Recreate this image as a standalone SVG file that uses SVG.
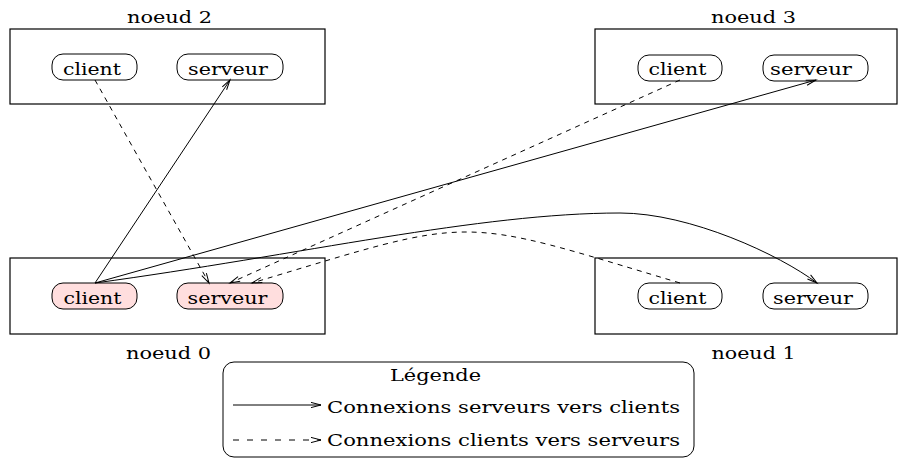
<svg xmlns="http://www.w3.org/2000/svg" width="899" height="459" viewBox="0 0 899 459">
<style>
.box{fill:none;stroke:#000;stroke-width:1.2}
.pill{fill:#fff;stroke:#000;stroke-width:1}
.pink{fill:#ffdede}
text{font-family:'DejaVu Serif','Liberation Serif',Tinos,'Times New Roman',serif;fill:#000}
.lbl{font-size:16px;text-anchor:middle}
.pt{font-size:17px;text-anchor:middle}
.lg{font-size:17px}
.con{fill:none;stroke:#000;stroke-width:1}
.dash{stroke-dasharray:5,5}
.ldash{stroke-dasharray:6,8}
</style>
<defs>
<marker id="arr" markerUnits="userSpaceOnUse" markerWidth="14" markerHeight="10" viewBox="-11 -5 14 10" refX="0" refY="0" orient="auto">
<path d="M-10,-2.6 L0,0 L-10,2.6" fill="none" stroke="#000" stroke-width="1"/>
</marker>
</defs>
<rect x="0" y="0" width="899" height="459" fill="#fff"/>
<g id="noeud2">
<rect class="box" x="10" y="29" width="315" height="75"/>
<text class="lbl" x="169.5" y="23" textLength="85" lengthAdjust="spacingAndGlyphs">noeud 2</text>
<g id="n2-client"><rect class="pill" x="52" y="54" width="85" height="26" rx="11"/><text class="pt" x="92" y="75" textLength="58" lengthAdjust="spacingAndGlyphs">client</text></g>
<g id="n2-serveur"><rect class="pill" x="177" y="54" width="106" height="26" rx="11"/><text class="pt" x="228" y="75" textLength="80" lengthAdjust="spacingAndGlyphs">serveur</text></g>
</g>

<g id="noeud3">
<rect class="box" x="595" y="29" width="302" height="75"/>
<text class="lbl" x="753.5" y="23" textLength="85" lengthAdjust="spacingAndGlyphs">noeud 3</text>
<g id="n3-client"><rect class="pill" x="638" y="55" width="84" height="26" rx="11"/><text class="pt" x="677.5" y="75" textLength="58" lengthAdjust="spacingAndGlyphs">client</text></g>
<g id="n3-serveur"><rect class="pill" x="763" y="55" width="105" height="26" rx="11"/><text class="pt" x="811" y="75" textLength="82" lengthAdjust="spacingAndGlyphs">serveur</text></g>
</g>

<g id="noeud0">
<rect class="box" x="10" y="258" width="315" height="76"/>
<text class="lbl" x="168.5" y="359" textLength="85" lengthAdjust="spacingAndGlyphs">noeud 0</text>
<g id="n0-client"><rect class="pill pink" x="52" y="283" width="85" height="26" rx="11"/><text class="pt" x="92.5" y="303.5" textLength="58" lengthAdjust="spacingAndGlyphs">client</text></g>
<g id="n0-serveur"><rect class="pill pink" x="177" y="283" width="106" height="26" rx="11"/><text class="pt" x="227.5" y="303.5" textLength="80" lengthAdjust="spacingAndGlyphs">serveur</text></g>
</g>

<g id="noeud1">
<rect class="box" x="595" y="258" width="302" height="76"/>
<text class="lbl" x="753.5" y="359" textLength="84" lengthAdjust="spacingAndGlyphs">noeud 1</text>
<g id="n1-client"><rect class="pill" x="638" y="283" width="84" height="26" rx="11"/><text class="pt" x="677.5" y="303.5" textLength="58" lengthAdjust="spacingAndGlyphs">client</text></g>
<g id="n1-serveur"><rect class="pill" x="763" y="283" width="105" height="26" rx="11"/><text class="pt" x="813" y="303.5" textLength="80" lengthAdjust="spacingAndGlyphs">serveur</text></g>
</g>

<g id="connectors">
<line class="con" x1="95" y1="283" x2="230" y2="80" marker-end="url(#arr)"/>
<line class="con dash" x1="95" y1="80" x2="209" y2="283" marker-end="url(#arr)"/>
<line class="con" x1="95" y1="283" x2="816" y2="80" marker-end="url(#arr)"/>
<line class="con dash" x1="680" y1="80" x2="230" y2="283" marker-end="url(#arr)"/>
<path class="con" d="M95,283 C300,255 480,213 620,213 C690,213 780,255 817,283" marker-end="url(#arr)"/>
<path class="con dash" d="M680,283 C453,215 479,215 252,283" marker-end="url(#arr)"/>
</g>

<g id="legende">
<rect class="box" x="223" y="362" width="471" height="95" rx="11" style="stroke-width:1"/>
<text class="lg" x="435.5" y="381" text-anchor="middle" textLength="91" lengthAdjust="spacingAndGlyphs">Légende</text>
<line class="con" x1="233" y1="405" x2="321" y2="405" marker-end="url(#arr)"/>
<text class="lg" x="327" y="413" textLength="353" lengthAdjust="spacingAndGlyphs">Connexions serveurs vers clients</text>
<line class="con ldash" x1="233" y1="440" x2="321" y2="440" marker-end="url(#arr)"/>
<text class="lg" x="327" y="446" textLength="353" lengthAdjust="spacingAndGlyphs">Connexions clients vers serveurs</text>
</g>
</svg>
